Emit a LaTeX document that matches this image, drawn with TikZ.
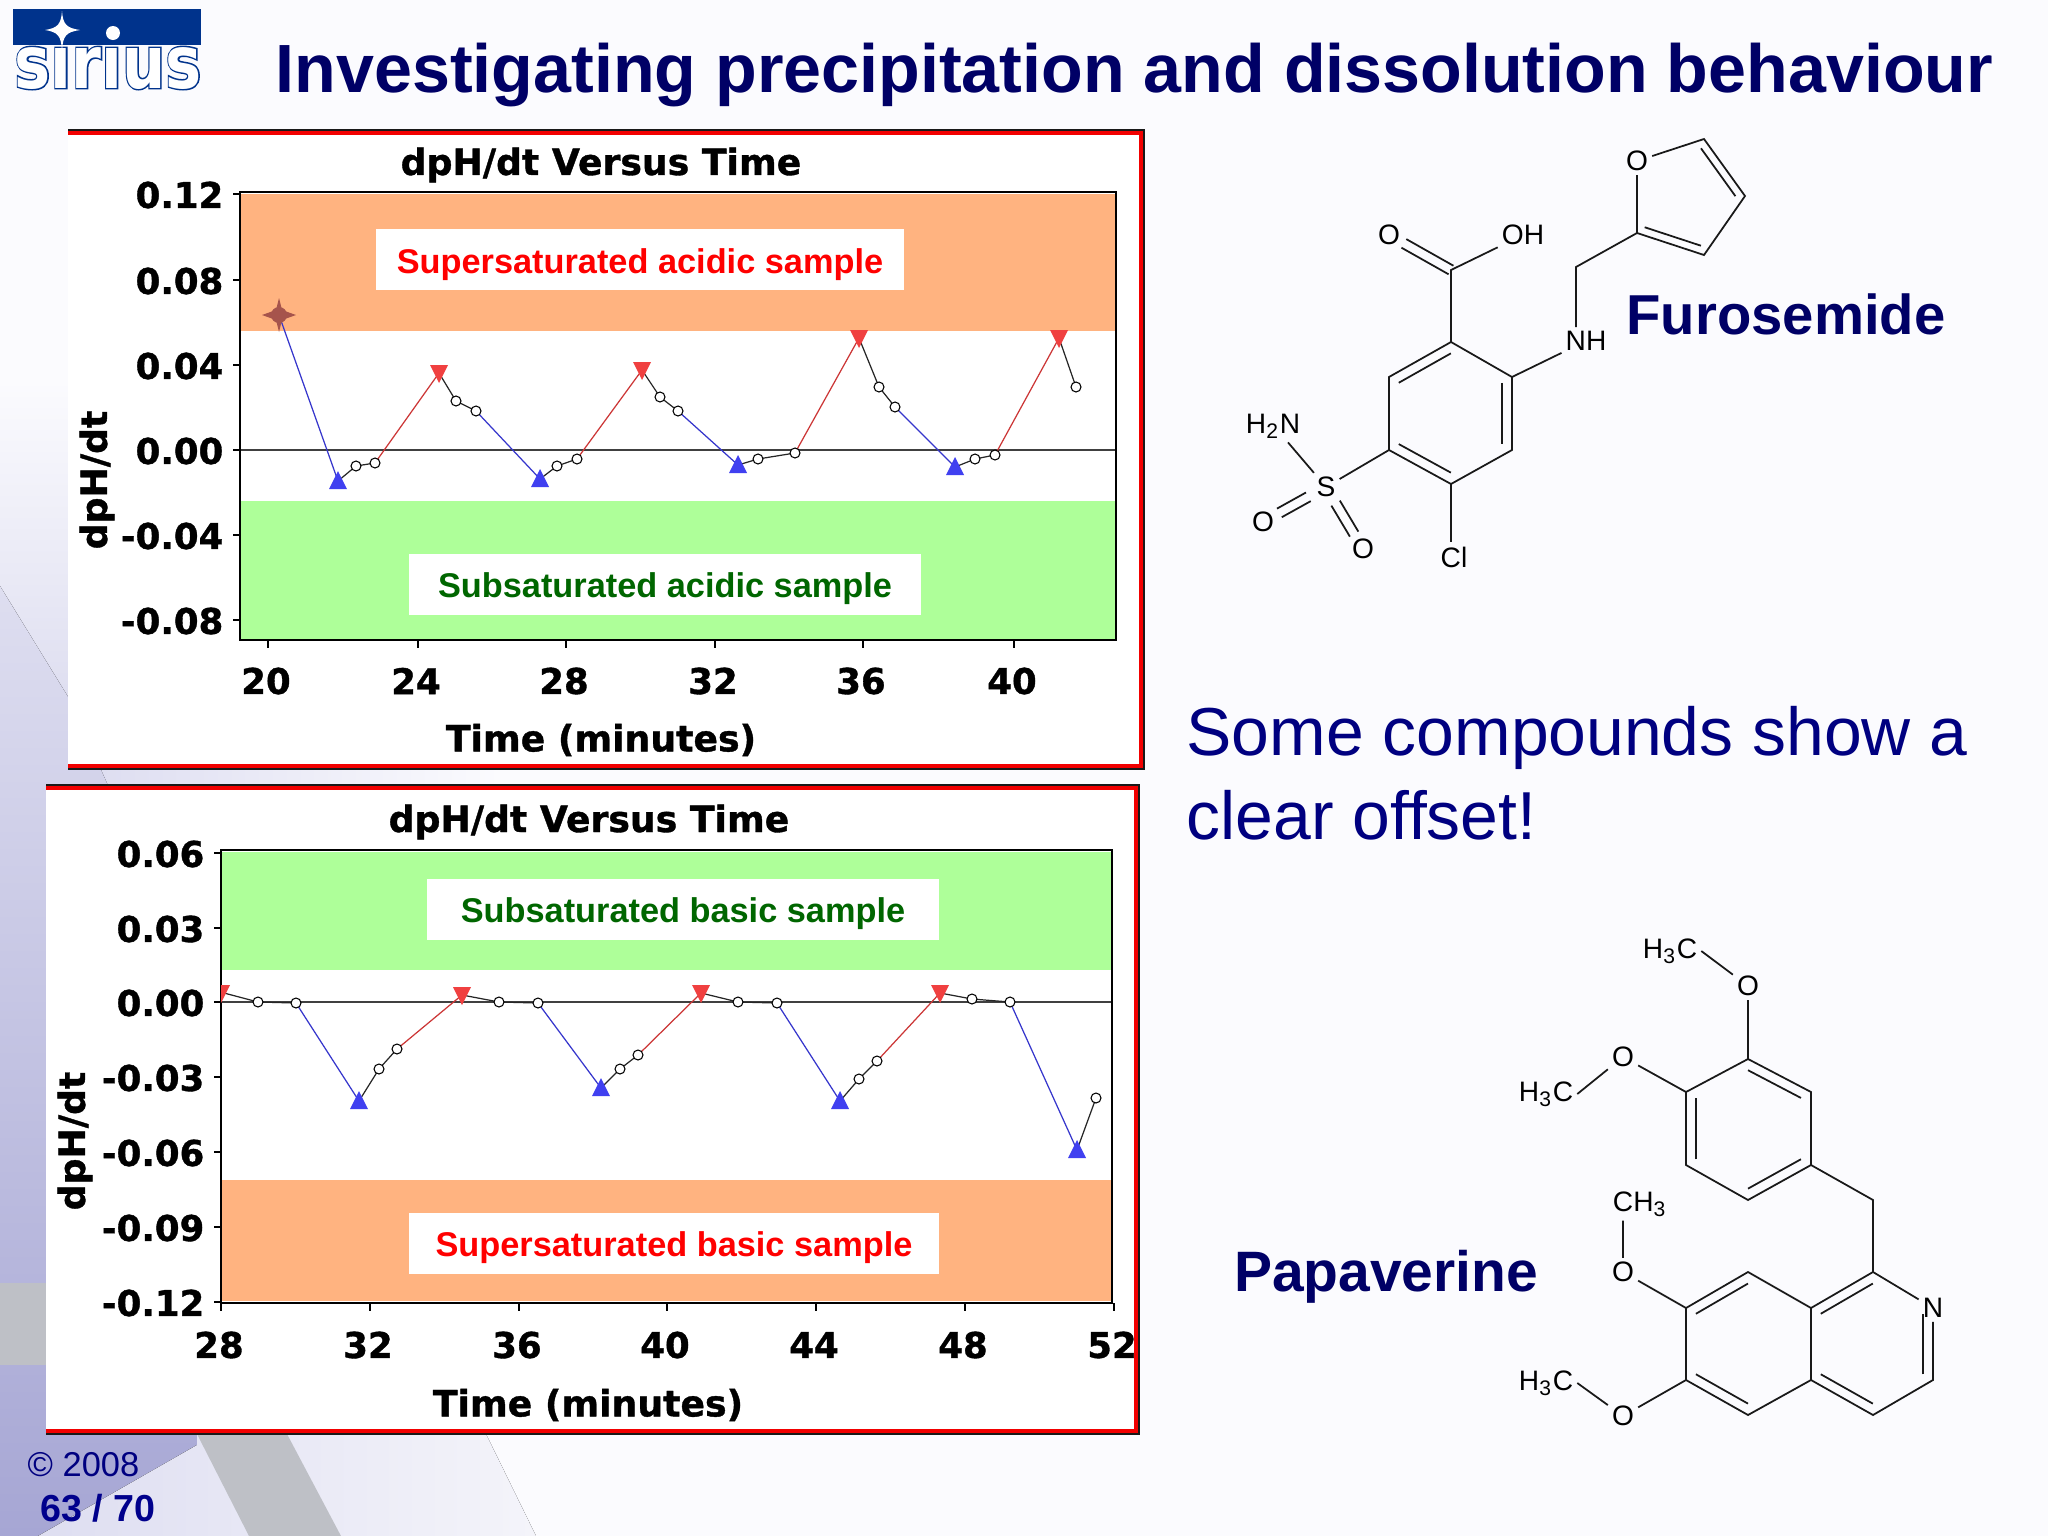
\documentclass[tikz,border=0pt]{standalone}
\usepackage{fontspec}
\usepackage{tikz}
\usetikzlibrary{calc}
\setmainfont{Liberation Sans}
\newfontfamily\chartfont[BoldFeatures={FakeBold=1}]{DejaVu Sans}
\newfontfamily\logofont[BoldFeatures={FakeBold=4}]{DejaVu Sans}

\definecolor{slidebase}{RGB}{251,251,254}
\definecolor{lavtop}{RGB}{222,222,240}
\definecolor{lavlow}{RGB}{166,166,212}
\definecolor{lavpale}{RGB}{222,222,241}
\definecolor{lavfade}{RGB}{244,244,250}
\definecolor{bandgrey}{RGB}{190,192,198}
\definecolor{navytitle}{RGB}{0,0,102}
\definecolor{navytext}{RGB}{0,0,128}
\definecolor{pageblue}{RGB}{0,0,140}
\definecolor{logoblue}{RGB}{0,51,140}
\definecolor{bandorange}{RGB}{255,179,128}
\definecolor{bandgreen}{RGB}{174,255,153}
\definecolor{darkgreen}{RGB}{0,102,0}
\definecolor{markred}{RGB}{240,64,64}
\definecolor{markblue}{RGB}{64,64,240}
\definecolor{starbrown}{RGB}{166,84,76}

\tikzset{
  chartaxis/.style={line width=0.55pt,black},
  zeroline/.style={line width=0.55pt,black!75},
  ticktext/.style={font=\chartfont\bfseries\fontsize{10.1}{12}\selectfont,inner sep=0pt},
  charttitle/.style={font=\chartfont\bfseries\fontsize{10.3}{12}\selectfont,inner sep=0pt},
  bandbox/.style={fill=white,inner sep=0pt,text height=12.6pt,text depth=4.75pt,font=\bfseries\fontsize{9.76}{11}\selectfont},
  bluetrace/.style={line width=0.35pt,markblue!85!black},
  redtrace/.style={line width=0.35pt,markred!85!black},
  blacktrace/.style={line width=0.35pt,black!85},
  drugname/.style={font=\bfseries\fontsize{16}{19}\selectfont,text=navytitle,inner sep=0pt},
  atom/.style={font=\fontsize{8}{9}\selectfont,inner sep=1pt},
  bond/.style={line width=0.5pt,black!90},
}
\newcommand{\chartframe}[4]{% left, top, right, bottom
  \fill[white] (#1,#2) rectangle (#3,#4);
  \draw[line width=0.6pt,black!90] (#1,#2-2.5) -- (#3+2.5,#2-2.5) -- (#3+2.5,#4+2.5) -- (#1,#4+2.5);
  \draw[line width=0.95pt,red!95!black] (#1,#2) -- (#3,#2) -- (#3,#4) -- (#1,#4);
}
\newcommand{\upmark}[2]{\fill[markblue] (#1-9,#2+8) -- (#1+9,#2+8) -- (#1,#2-10) -- cycle;}
\newcommand{\downmark}[2]{\fill[markred] (#1-9,#2-8) -- (#1+9,#2-8) -- (#1,#2+10) -- cycle;}
\newcommand{\ringbond}[3]{\draw[bond] ($(#1)!.16!(#3)$) -- ($(#2)!.16!(#3)$);}
\newcommand{\dblbond}[4]{%
  \draw[bond] ($(#1)!#3!(#2)!1.4pt!90:(#2)$) -- ($(#1)!#4!(#2)!1.4pt!90:(#2)$);
  \draw[bond] ($(#1)!#3!(#2)!1.4pt!-90:(#2)$) -- ($(#1)!#4!(#2)!1.4pt!-90:(#2)$);
}

\begin{document}
\begin{tikzpicture}[x=0.01cm,y=-0.01cm]
\useasboundingbox (0,0) rectangle (2048,1536);

% slide background
\fill[slidebase] (0,0) rectangle (2048,1536);
\fill[top color=slidebase,bottom color=lavtop] (0,380) rectangle (70,700);
\fill[left color=lavpale,right color=slidebase] (100,760) rectangle (500,795);
\fill[top color=lavtop,bottom color=lavlow]
  (0,586) -- (70,700) -- (110,790) -- (300,790) -- (300,1434) -- (197,1445) -- (38,1536) -- (0,1536) -- cycle;
\fill[bandgrey] (0,1283) rectangle (46,1365);
\fill[left color=lavpale,right color=lavfade]
  (197,1445) -- (197,1434) -- (486,1434) -- (536,1536) -- (38,1536) -- cycle;
\fill[bandgrey] (197,1434) -- (287,1434) -- (341,1536) -- (249,1536) -- cycle;

% logo
\node[inner sep=0pt,anchor=base] (logoback) at (108,88)
  {\scalebox{.83}[1]{\logofont\bfseries\color{logoblue}\fontsize{20.8}{24}\selectfont sirius}};
\node[inner sep=0pt,anchor=base] (logotext) at (108,88)
  {\scalebox{.83}[1]{\chartfont\mdseries\color{white}\fontsize{20.8}{24}\selectfont\fontspec{DejaVu Sans Bold}sirius}};
\fill[logoblue] (13,9) rectangle (201,45);
\fill[white] (62,11) .. controls (63,24) and (66,28) .. (80,30) .. controls (66,32) and (63,36) .. (62,50)
  .. controls (61,36) and (58,32) .. (45,30) .. controls (58,28) and (61,24) .. (62,11) -- cycle;
\fill[white] (113,33) circle (7);

% title
\node[anchor=west,inner sep=0pt,text=navytitle,font=\bfseries\fontsize{19.4}{23}\selectfont] (slidetitle) at (275,75)
  {Investigating precipitation and dissolution behaviour};

% upper chart
\chartframe{68}{133}{1141}{766}
\fill[bandorange] (240,194) rectangle (1116,331);
\fill[bandgreen] (240,501) rectangle (1116,640);
\node[bandbox,text=red,minimum width=528.5*0.01cm] (superacid) at (640,259.5) {Supersaturated acidic sample};
\node[bandbox,text=darkgreen,minimum width=512*0.01cm] (subacid) at (665,584) {Subsaturated acidic sample};
\draw[zeroline] (240,450) -- (1116,450);
\draw[chartaxis] (240,192) rectangle (1116,640);
\foreach \val/\ypos in {0.12/194,0.08/280,0.04/365,0.00/450,-0.04/535,-0.08/620}{
  \draw[chartaxis] (233,\ypos) -- (240,\ypos);
  \node[ticktext,anchor=east] at (224,\ypos+1) {\val};
}
\foreach \val/\xpos in {20/268,24/418,28/566,32/715,36/863,40/1014}{
  \draw[chartaxis] (\xpos,640) -- (\xpos,648);
  \node[ticktext] at (\xpos-2,681) {\val};
}
\node[charttitle] (upperhead) at (601,165) {dpH/dt Versus Time};
\node[charttitle] (upperxlabel) at (601,740) {Time (minutes)};
\node[charttitle,rotate=90] (upperylabel) at (97,480) {dpH/dt};

\draw[bluetrace] (279,315) -- (338,481) (476,411) -- (540,479) (678,411) -- (738,465) (895,407) -- (955,467);
\draw[redtrace] (375,463) -- (439,373) (577,459) -- (642,370) (795,453) -- (859,338) (995,455) -- (1059,338);
\draw[blacktrace] (338,481) -- (356,466) -- (375,463) (439,373) -- (456,401) -- (476,411)
  (540,479) -- (557,466) -- (577,459) (642,370) -- (660,397) -- (678,411)
  (738,465) -- (758,459) -- (795,453) (859,338) -- (879,387) -- (895,407)
  (955,467) -- (975,459) -- (995,455) (1059,338) -- (1076,387);
\foreach \xpos/\ypos in {356/466,375/463,456/401,476/411,557/466,577/459,660/397,678/411,758/459,795/453,879/387,895/407,975/459,995/455,1076/387}
  \draw[line width=0.3pt,black,fill=white] (\xpos,\ypos) circle (5);
\foreach \xpos/\ypos in {338/481,540/479,738/465,955/467}{\upmark{\xpos}{\ypos}}
\foreach \xpos/\ypos in {439/373,642/370,859/338,1059/338}{\downmark{\xpos}{\ypos}}
\fill[starbrown] (279,298) -- (282,310) -- (296,315) -- (282,320) -- (279,332) -- (276,320) -- (262,315) -- (276,310) -- cycle;
\fill[starbrown] (279,315) circle (8);

% lower chart
\chartframe{46}{788}{1136}{1431}
\fill[bandgreen] (221,852) rectangle (1112,970);
\fill[bandorange] (221,1180) rectangle (1112,1301);
\node[bandbox,text=darkgreen,minimum width=512*0.01cm] (subbasic) at (683,909) {Subsaturated basic sample};
\node[bandbox,text=red,minimum width=530*0.01cm] (superbasic) at (674,1243) {Supersaturated basic sample};
\draw[zeroline] (221,1002) -- (1112,1002);
\draw[chartaxis] (221,850) rectangle (1112,1303);
\foreach \val/\ypos in {0.06/853,0.03/928,0.00/1002,-0.03/1077,-0.06/1152,-0.09/1227,-0.12/1302}{
  \draw[chartaxis] (214,\ypos) -- (221,\ypos);
  \node[ticktext,anchor=east] at (205,\ypos+1) {\val};
}
\foreach \val/\xpos in {28/221,32/370,36/519,40/667,44/816,48/965,52/1114}{
  \draw[chartaxis] (\xpos,1303) -- (\xpos,1311);
  \node[ticktext] at (\xpos-2,1345) {\val};
}
\node[charttitle] (lowerhead) at (589,822) {dpH/dt Versus Time};
\node[charttitle] (lowerxlabel) at (588,1405) {Time (minutes)};
\node[charttitle,rotate=90] (lowerylabel) at (75,1141) {dpH/dt};

\draw[bluetrace] (296,1003) -- (359,1101) (538,1003) -- (601,1088) (777,1003) -- (840,1101) (1010,1002) -- (1077,1150);
\draw[redtrace] (397,1049) -- (462,995) (638,1055) -- (701,993) (877,1061) -- (940,993);
\draw[blacktrace] (224,993) -- (258,1002) -- (296,1003) (359,1101) -- (379,1069) -- (397,1049)
  (462,995) -- (499,1002) -- (538,1003) (601,1088) -- (620,1069) -- (638,1055)
  (701,993) -- (738,1002) -- (777,1003) (840,1101) -- (859,1079) -- (877,1061)
  (940,993) -- (972,999) -- (1010,1002) (1077,1150) -- (1096,1098);
\foreach \xpos/\ypos in {258/1002,296/1003,379/1069,397/1049,499/1002,538/1003,620/1069,638/1055,738/1002,777/1003,859/1079,877/1061,972/999,1010/1002,1096/1098}
  \draw[line width=0.3pt,black,fill=white] (\xpos,\ypos) circle (5);
\foreach \xpos/\ypos in {359/1101,601/1088,840/1101,1077/1150}{\upmark{\xpos}{\ypos}}
\foreach \xpos/\ypos in {462/995,701/993,940/993}{\downmark{\xpos}{\ypos}}
\begin{scope}
\clip (221,970) rectangle (260,1010);
\downmark{221}{993}
\end{scope}

% furosemide
\coordinate (c1) at (1451,342);
\coordinate (c2) at (1512,377);
\coordinate (c3) at (1512,450);
\coordinate (c4) at (1451,484);
\coordinate (c5) at (1389,450);
\coordinate (c6) at (1389,377);
\coordinate (cmid) at (1450,413);
\coordinate (cacid) at (1451,270);
\coordinate (cmeth) at (1576,267);
\coordinate (f2) at (1637,233);
\coordinate (f3) at (1704,255);
\coordinate (f4) at (1745,196);
\coordinate (f5) at (1704,139);
\coordinate (fmid) at (1685,197);
\node[atom] (oxo) at (1389,235) {O};
\node[atom] (acidh) at (1523,235) {OH};
\node[atom] (nh) at (1586,341) {NH};
\node[atom] (ofur) at (1637,161) {O};
\node[atom] (sulf) at (1326,487) {S};
\node[atom] (amine) at (1273,426) {H\textsubscript{2}N};
\node[atom] (osa) at (1263,522) {O};
\node[atom] (osb) at (1363,549) {O};
\node[atom] (chlor) at (1454,557) {Cl};
\draw[bond] (c1) -- (c2) -- (c3) -- (c4) -- (c5) -- (c6) -- (c1);
\ringbond{c1}{c6}{cmid}
\ringbond{c2}{c3}{cmid}
\ringbond{c4}{c5}{cmid}
\draw[bond] (c1) -- (cacid) -- (acidh);
\dblbond{cacid}{oxo}{0}{.76}
\draw[bond] (c2) -- (nh) (cmeth |- nh.north) -- (cmeth) -- (f2) -- (ofur) -- (f5) -- (f4) -- (f3) -- (f2);
\ringbond{f2}{f3}{fmid}
\ringbond{f4}{f5}{fmid}
\draw[bond] (c5) -- (sulf) -- ([xshift=0.15cm]amine.south);
\dblbond{sulf}{osa}{.28}{.74}
\dblbond{sulf}{osb}{.26}{.76}
\draw[bond] (c4) -- (c4 |- chlor.north);
\node[drugname] (furoname) at (1786,314) {Furosemide};

% side text
\node[anchor=north west,align=left,inner sep=0pt,text=navytext,font=\fontsize{19.3}{23.8}\selectfont] (offsetnote) at (1186,706)
  {Some compounds show a\\clear offset!};

% papaverine
\coordinate (a1) at (1748,1059);
\coordinate (a2) at (1811,1092);
\coordinate (a3) at (1811,1165);
\coordinate (a4) at (1748,1200);
\coordinate (a5) at (1686,1165);
\coordinate (a6) at (1686,1092);
\coordinate (amid) at (1748,1129);
\coordinate (bridge) at (1873,1200);
\coordinate (b1) at (1873,1272);
\coordinate (b3) at (1933,1380);
\coordinate (b4) at (1873,1415);
\coordinate (b5) at (1811,1380);
\coordinate (b6) at (1811,1308);
\coordinate (b7) at (1748,1272);
\coordinate (b8) at (1686,1308);
\coordinate (b9) at (1686,1380);
\coordinate (b10) at (1748,1415);
\coordinate (bmida) at (1872,1344);
\coordinate (bmidb) at (1748,1344);
\node[atom] (otop) at (1748,986) {O};
\node[atom] (metop) at (1670,951) {H\textsubscript{3}C};
\node[atom] (oleft) at (1623,1057) {O};
\node[atom] (meleft) at (1546,1094) {H\textsubscript{3}C};
\node[atom] (nring) at (1933,1308) {N};
\node[atom] (omid) at (1623,1272) {O};
\node[atom] (memid) at (1640,1204) {CH\textsubscript{3}};
\node[atom] (olow) at (1623,1416) {O};
\node[atom] (melow) at (1546,1383) {H\textsubscript{3}C};
\draw[bond] (a1) -- (a2) -- (a3) -- (a4) -- (a5) -- (a6) -- (a1);
\ringbond{a1}{a2}{amid}
\ringbond{a3}{a4}{amid}
\ringbond{a5}{a6}{amid}
\draw[bond] (a1) -- (otop) (otop) -- (metop.east);
\draw[bond] (a6) -- (oleft) (oleft) -- (meleft.east);
\draw[bond] (a3) -- (bridge) -- (b1);
\draw[bond] (b1) -- (nring) (nring) -- (b3) -- (b4) -- (b5) -- (b6) -- (b1);
\ringbond{b1}{b6}{bmida}
\ringbond{b3}{nring}{bmida}
\ringbond{b4}{b5}{bmida}
\draw[bond] (b6) -- (b7) -- (b8) -- (b9) -- (b10) -- (b5);
\ringbond{b7}{b8}{bmidb}
\ringbond{b9}{b10}{bmidb}
\draw[bond] (b8) -- (omid) (omid) -- (omid |- memid.south);
\draw[bond] (b9) -- (olow) (olow) -- (melow.east);
\node[drugname,font=\bfseries\fontsize{16.2}{19}\selectfont] (papaname) at (1386,1277) {Papaverine};

% footer
\node[anchor=west,inner sep=0pt,text=navytext,font=\fontsize{9.8}{12}\selectfont] (copyline) at (27,1465) {© 2008};
\node[anchor=west,inner sep=0pt,text=pageblue,font=\bfseries\fontsize{10.7}{13}\selectfont] (pageline) at (40,1508) {63 / 70};
\end{tikzpicture}
\end{document}
